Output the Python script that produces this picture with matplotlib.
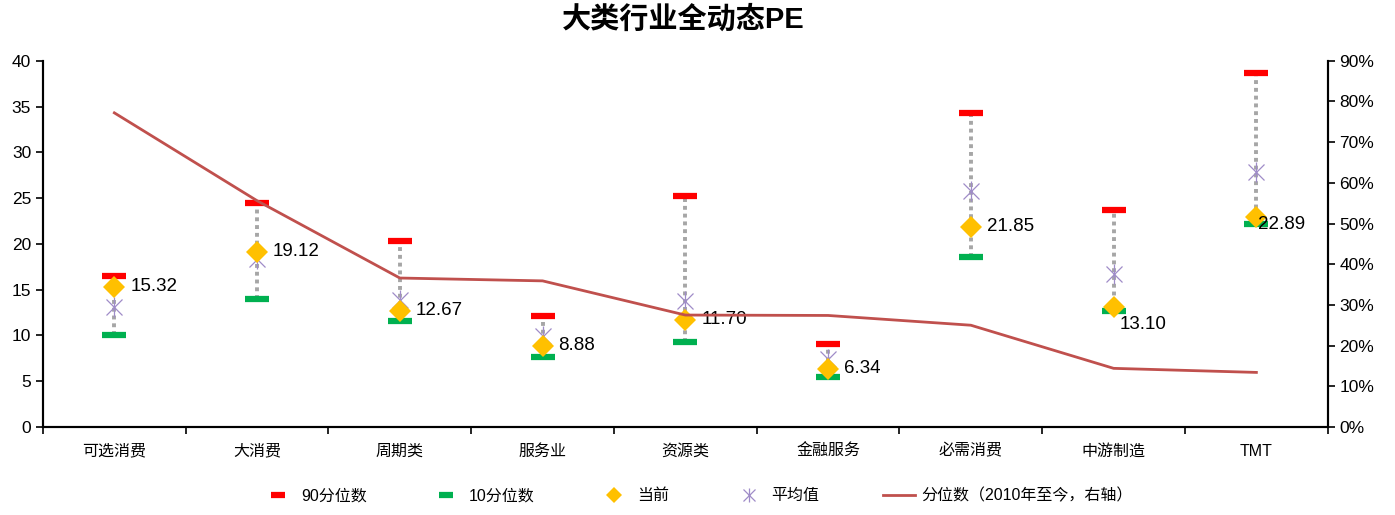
import matplotlib
matplotlib.use('Agg')
import matplotlib.pyplot as plt
from matplotlib.lines import Line2D
from matplotlib.ticker import FuncFormatter

plt.rcParams['font.family'] = ['Liberation Sans', 'Noto Sans CJK SC']
plt.rcParams['axes.unicode_minus'] = False

cats = ['可选消费', '大消费', '周期类', '服务业', '资源类', '金融服务', '必需消费', '中游制造', 'TMT']
p90 = [16.5, 24.5, 20.3, 12.1, 25.2, 9.1, 34.3, 23.7, 38.7]
p10 = [10.05, 14.0, 11.6, 7.6, 9.3, 5.5, 18.6, 12.7, 22.15]
cur = [15.32, 19.12, 12.67, 8.88, 11.70, 6.34, 21.85, 13.10, 22.89]
avg = [13.1, 18.3, 13.9, 9.9, 13.8, 7.4, 25.8, 16.7, 27.8]
pct = [77.2, 55.6, 36.6, 35.9, 27.5, 27.4, 25.0, 14.4, 13.4]
# label offsets in pixels (x, y)
lab_off = [(16, 0), (16, 0), (16, 0), (16, 0), (16, 0), (16, 0), (16, 0), (6, -17), (2, -7)]

fig = plt.figure(figsize=(13.95, 5.15), dpi=100)
ax = fig.add_axes([0.0308, 0.171, 0.921, 0.711])
ax2 = ax.twinx()

x = list(range(len(cats)))

for i in x:
    ax.plot([i, i], [p10[i], p90[i]], color='#a6a6a6', linestyle=(0, (1, 1)), lw=2.8, zorder=1)

ax.plot(x, p90, linestyle='none', marker='_', color='#ff0000', ms=17, mew=4.5, zorder=3)
ax.plot(x, p10, linestyle='none', marker='_', color='#00b050', ms=17, mew=4.5, zorder=3)
ax.plot(x, avg, linestyle='none', marker='x', color='#9f8cc8', ms=11, mew=0.9, zorder=4)
ax.plot(x, avg, linestyle='none', marker='|', color='#9f8cc8', ms=14, mew=0.9, zorder=4)
ax.plot(x, cur, linestyle='none', marker='D', color='#ffc000', ms=11, mew=0, zorder=5)

for i in x:
    ax.annotate('{:.2f}'.format(cur[i]), (i, cur[i]), xytext=lab_off[i], textcoords='offset pixels',
                ha='left', va='center', fontsize=13.5, color='black', zorder=6)

ax2.plot(x, pct, color='#c0504d', lw=2.0, zorder=2)

ax.set_xlim(-0.5, 8.5)
ax.set_ylim(0, 40)
ax.set_yticks(range(0, 41, 5))
ax2.set_ylim(0, 90)
ax2.set_yticks(range(0, 91, 10))
ax2.yaxis.set_major_formatter(FuncFormatter(lambda v, p: '{:d}%'.format(int(v))))

ax.set_xticks(x)
ax.set_xticklabels(cats, fontsize=11.5)
ax.set_xticks([i - 0.5 for i in range(len(cats) + 1)], minor=True)
ax.tick_params(axis='x', which='major', length=0, pad=12)
ax.tick_params(axis='x', which='minor', length=5, width=1.2, direction='out')
ax.tick_params(axis='y', labelsize=12.5, length=5, width=1.2, direction='out')
ax2.tick_params(axis='y', labelsize=12.5, length=5, width=1.2, direction='out')

for a in (ax, ax2):
    a.spines['top'].set_visible(False)
    for s in ('left', 'right', 'bottom'):
        a.spines[s].set_linewidth(1.5)

fig.suptitle('大类行业全动态PE', fontsize=21, fontweight='bold', x=0.49, y=0.99)

handles = [
    Line2D([], [], linestyle='none', marker='_', color='#ff0000', ms=10, mew=4.5),
    Line2D([], [], linestyle='none', marker='_', color='#00b050', ms=10, mew=4.5),
    Line2D([], [], linestyle='none', marker='D', color='#ffc000', ms=8, mew=0),
    (Line2D([], [], linestyle='none', marker='x', color='#9f8cc8', ms=8, mew=0.9),
     Line2D([], [], linestyle='none', marker='|', color='#9f8cc8', ms=10, mew=0.9)),
    Line2D([], [], color='#c0504d', lw=2.0),
]
labels = ['90分位数', '10分位数', '当前', '平均值', '分位数（2010年至今，右轴）']
fig.legend(handles, labels, loc='lower center', bbox_to_anchor=(0.5, -0.005), ncol=5,
           frameon=False, fontsize=11.5, columnspacing=4.0, handlelength=2, handletextpad=0.4)

fig.savefig('out.png', dpi=100)
